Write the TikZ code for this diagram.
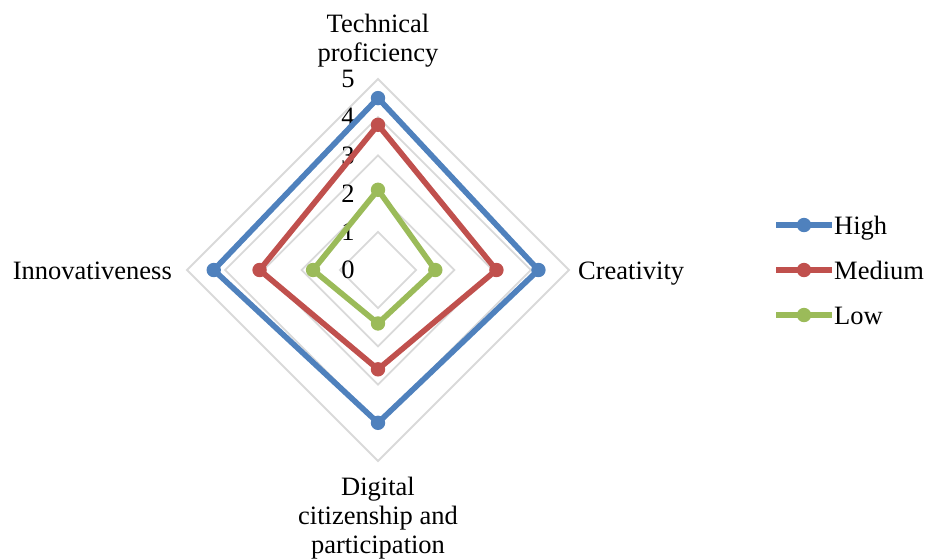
\documentclass[tikz,border=0pt]{standalone}
\usepackage{fontspec}
\setmainfont{Liberation Serif}
\usetikzlibrary{positioning}
\definecolor{highblue}{HTML}{4F81BD}
\definecolor{medred}{HTML}{C0504D}
\definecolor{lowgreen}{HTML}{9BBB59}
\definecolor{gridgray}{HTML}{D9D9D9}

\begin{document}
\begin{tikzpicture}[x=1pt,y=-1pt,font=\fontsize{26.5}{29}\selectfont,
  gridline/.style={draw=gridgray, line width=1.8pt},
  series/.style={line width=5.6pt, line join=round},
  label/.style={inner sep=2pt}]
\useasboundingbox (0,0) rectangle (927,558);

\begin{scope}[shift={(378,270)},x=38.2pt,y=-38.2pt]
% grid
\foreach \r in {1,...,5}
  \draw[gridline] (0,-\r) -- (\r,0) -- (0,\r) -- (-\r,0) -- cycle;
\foreach \v in {0,...,5}
  \node[inner sep=0pt, xshift=-30pt] (tick\v) at (0,-\v) {\v};
% series
\draw[series, highblue] (0,-4.5) -- (4.2,0) -- (0,4.0) -- (-4.3,0) -- cycle;
\draw[series, medred] (0,-3.8) -- (3.1,0) -- (0,2.6) -- (-3.1,0) -- cycle;
\draw[series, lowgreen] (0,-2.1) -- (1.5,0) -- (0,1.4) -- (-1.7,0) -- cycle;
\foreach \p in {(0,-4.5),(4.2,0),(0,4.0),(-4.3,0)}
  \fill[highblue] \p circle (7.2pt);
\foreach \p in {(0,-3.8),(3.1,0),(0,2.6),(-3.1,0)}
  \fill[medred] \p circle (7.2pt);
\foreach \p in {(0,-2.1),(1.5,0),(0,1.4),(-1.7,0)}
  \fill[lowgreen] \p circle (7.2pt);
\end{scope}

% axis labels
\node[label, align=center] (tech) at (378,41) {Technical\\proficiency};
\node[label, align=center] (digital) at (378,518) {Digital\\citizenship and\\participation};
\node[label, anchor=base east] (innov) at (174,279) {Innovativeness};
\node[label, anchor=base west] (creat) at (576,279) {Creativity};

% legend
\coordinate (hA) at (776,225); \coordinate (hB) at (832,225);
\coordinate (mA) at (776,270); \coordinate (mB) at (832,270);
\coordinate (lA) at (776,315); \coordinate (lB) at (832,315);
\draw[series, highblue] (hA) -- (hB);
\fill[highblue] (804,225) circle (7.2pt);
\draw[series, medred] (mA) -- (mB);
\fill[medred] (804,270) circle (7.2pt);
\draw[series, lowgreen] (lA) -- (lB);
\fill[lowgreen] (804,315) circle (7.2pt);
\node[label, anchor=base west] (leghigh) at (832,234) {High};
\node[label, anchor=base west] (legmed) at (832,279) {Medium};
\node[label, anchor=base west] (leglow) at (832,324) {Low};
\end{tikzpicture}
\end{document}
